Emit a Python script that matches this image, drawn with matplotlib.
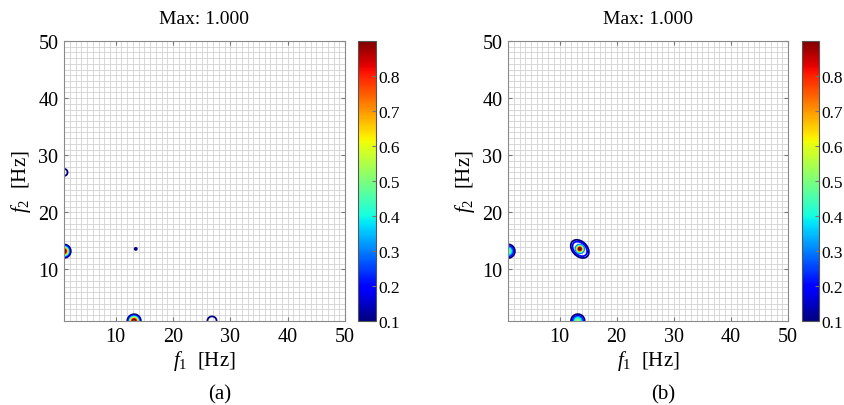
import numpy as np
import matplotlib
matplotlib.use("Agg")
import matplotlib.pyplot as plt
from matplotlib.colors import Normalize
from matplotlib.cm import ScalarMappable

plt.rcParams['font.family'] = ['Liberation Serif', 'DejaVu Serif']
plt.rcParams['mathtext.fontset'] = 'custom'
plt.rcParams['mathtext.rm'] = 'Liberation Serif'
plt.rcParams['mathtext.it'] = 'Liberation Serif:italic'

# Frequency axis (Hz)
f_min, f_max = 0.977, 50.0
freq_ticks = [10, 20, 30, 40, 50]
contour_levels = [0.1, 0.2, 0.3, 0.4, 0.5, 0.6, 0.7, 0.8, 0.9]
cbar_ticks = [0.1, 0.2, 0.3, 0.4, 0.5, 0.6, 0.7, 0.8]

# Bicoherence peaks, panel (a):
# centre f1, centre f2 (Hz), height, width across / along the anti-diagonal (Hz), shape order
a_f1 = [0.977, 13.2, 26.8, 0.977, 13.5]
a_f2 = [13.2, 0.977, 0.977, 27.0, 13.6]
a_amp = [1.0, 1.0, 0.17, 0.17, 0.12]
a_sig_u = [0.55, 0.55, 0.78, 0.6, 0.3]
a_sig_v = [0.55, 0.55, 0.78, 0.6, 0.3]
a_order = [2, 2, 2, 2, 2]

# Panel (b): central peak = narrow spike on a flat anti-diagonal pedestal
b_f1 = [0.977, 13.2, 13.55, 13.55]
b_f2 = [13.2, 0.977, 13.6, 13.6]
b_amp = [0.55, 0.55, 0.74, 0.26]
b_sig_u = [0.65, 0.65, 0.32, 1.65]
b_sig_v = [0.65, 0.65, 0.32, 1.15]
b_order = [2, 2, 2, 6]

step = 0.04
f = np.arange(f_min, f_max + step / 2, step)
F1, F2 = np.meshgrid(f, f)


def surface(c1, c2, amp, su, sv, order):
    Z = np.zeros_like(F1)
    for x0, y0, a, s_u, s_v, p in zip(c1, c2, amp, su, sv, order):
        u = ((F1 - x0) - (F2 - y0)) / np.sqrt(2)   # anti-diagonal
        v = ((F1 - x0) + (F2 - y0)) / np.sqrt(2)   # diagonal
        r = np.sqrt((u / s_u) ** 2 + (v / s_v) ** 2)
        Z += a * np.exp(-0.5 * r ** p)
    return Z / Z.max()


panels = [
    (surface(a_f1, a_f2, a_amp, a_sig_u, a_sig_v, a_order), "(a)"),
    (surface(b_f1, b_f2, b_amp, b_sig_u, b_sig_v, b_order), "(b)"),
]

W, H = 845, 406
fig = plt.figure(figsize=(W / 100, H / 100), dpi=100)

ax_boxes = [(64, 42, 281, 280), (508, 42, 280, 280)]
cb_boxes = [(358, 42, 18, 280), (802, 42, 17, 280)]
norm = Normalize(0.1, 0.9)
cmap = plt.get_cmap('jet')

for (Z, tag), axb, cbb in zip(panels, ax_boxes, cb_boxes):
    x, y, w, h = axb
    ax = fig.add_axes([x / W, 1 - (y + h) / H, w / W, h / H])
    ax.set_xlim(f_min, f_max)
    ax.set_ylim(f_min, f_max)
    ax.set_xticks(freq_ticks)
    ax.set_yticks(freq_ticks)
    ax.set_xticks(np.arange(1, 50, 1), minor=True)
    ax.set_yticks(np.arange(1, 50, 1), minor=True)
    ax.grid(True, which='both', color='#d2d2d2', linewidth=0.6)
    ax.set_axisbelow(True)
    ax.contour(F1, F2, Z, levels=contour_levels, cmap=cmap, norm=norm,
               linewidths=1.3)
    ax.tick_params(which='major', direction='in', length=3, top=True,
                   right=True, color='#777777', labelsize=14.5, pad=4)
    ax.tick_params(which='minor', length=0)
    for s in ax.spines.values():
        s.set_color('#8a8a8a')
        s.set_linewidth(0.8)
    ax.set_title(f"Max: {Z.max():.3f}", fontsize=14, pad=13)
    ax.set_xlabel(r'$\mathit{f}_{\mathit{1}}$  [Hz]', fontsize=15, labelpad=2)
    ax.set_ylabel(r'$\mathit{f}_{\mathit{2}}$  [Hz]', fontsize=15, labelpad=4)

    cx, cy, cw, ch = cbb
    cax = fig.add_axes([cx / W, 1 - (cy + ch) / H, cw / W, ch / H])
    cb = fig.colorbar(ScalarMappable(norm=norm, cmap=cmap), cax=cax,
                      ticks=cbar_ticks)
    cb.ax.set_yticklabels([f"{t:.1f}" for t in cbar_ticks])
    cb.ax.tick_params(direction='in', length=3, color='#777777',
                      labelsize=12.5, pad=2)
    cb.outline.set_edgecolor('#555555')
    cb.outline.set_linewidth(0.8)

    xc = (x + cx + cw) / 2 / W
    fig.text(xc, 1 - 395 / H, tag, ha='center', va='center', fontsize=15)

fig.savefig("out.png", dpi=100)
